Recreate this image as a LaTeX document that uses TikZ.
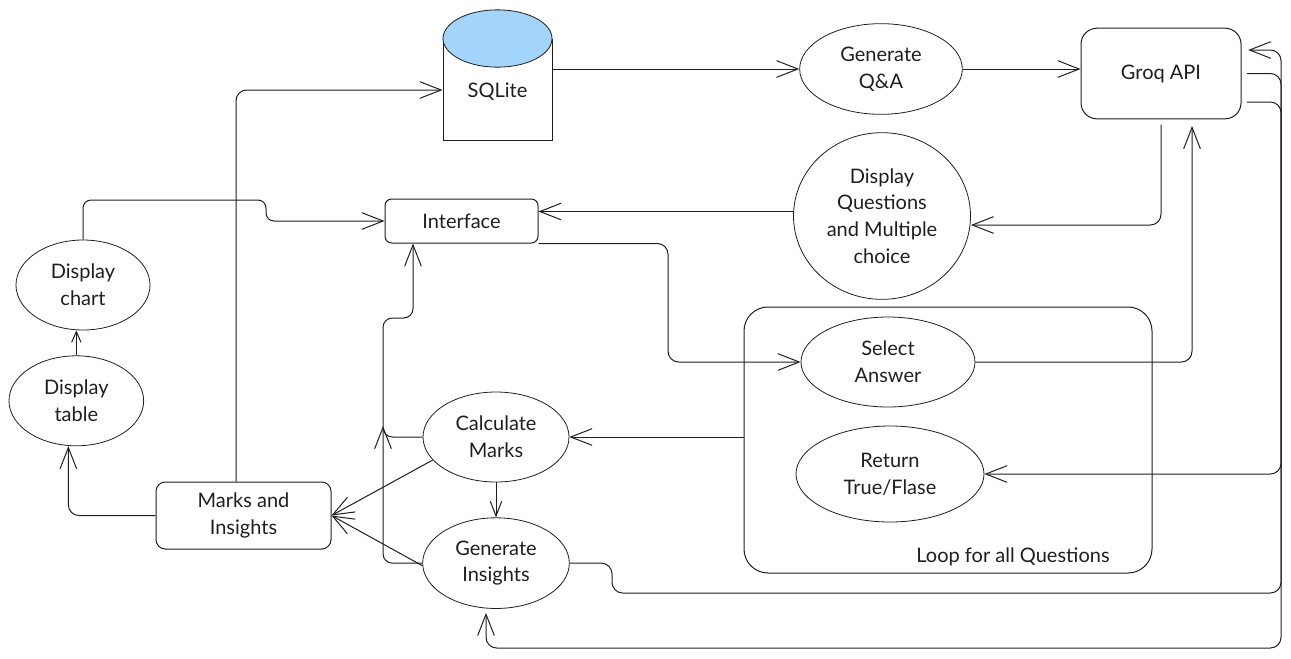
\documentclass[tikz,border=0pt]{standalone}
\usepackage{fontspec}
\setmainfont{Lato}
\usetikzlibrary{shapes.geometric,arrows.meta,positioning}
\definecolor{dbblue}{RGB}{163,212,252}
\definecolor{ink}{RGB}{30,30,30}

\begin{document}
\begin{tikzpicture}[
        x=0.75pt, y=-0.75pt,
        font=\fontsize{15pt}{20pt}\selectfont,
        line width=0.75pt, draw=ink, text=ink,
        oval/.style={ellipse, draw=ink, line width=0.6pt, align=center, inner sep=0pt},
        box/.style={rectangle, draw=ink, align=center, inner sep=0pt},
        arrow/.style={-{Straight Barb[length=16pt,width=12.5pt]}},
        mid arrow/.style={-{Straight Barb[length=11pt,width=8.5pt]}},
        small arrow/.style={-{Straight Barb[length=8pt,width=7pt]}}
    ]
        \useasboundingbox (0,0) rectangle (1291,658);

        % database
        \draw (443,39) -- (443,140) -- (552,140) -- (552,39);
        \draw[fill=dbblue, line width=0.6pt] (497.5,38.5) ellipse [x radius=40.875pt, y radius=21.5pt];
        \node (sql) [minimum width=81.75pt, minimum height=97.5pt, inner sep=0pt] at (497.5,75) {};
        \node (sqltext) at (497.5,92) {SQLite};

        \node (genqa) [oval, minimum width=122pt, minimum height=68pt] at (881,69) {Generate\\Q\&A};
        \node (groq) [box, rounded corners=12pt, minimum width=120pt, minimum height=68pt] at (1161,73.5) {Groq API};
        \node (dispq) [oval, minimum width=132.75pt, minimum height=125pt] at (882,216) {Display\\Questions\\and Multiple\\choice};
        \node (interface) [box, rounded corners=5pt, minimum width=114.75pt, minimum height=33pt] at (461.5,221) {Interface};
        \node (chart) [oval, minimum width=100.5pt, minimum height=67.5pt] at (83,285) {Display\\chart};
        \node (table) [oval, minimum width=101pt, minimum height=67.5pt, below=18.75pt of chart, xshift=-5pt] {Display\\table};
        \node (marks) [box, rounded corners=7pt, minimum width=131.25pt, minimum height=50.25pt] at (243.5,515.5) {Marks and\\Insights};
        \node (calc) [oval, minimum width=109.5pt, minimum height=67.5pt] at (496,437) {Calculate\\Marks};
        \node (geni) [oval, minimum width=110pt, minimum height=68pt, below=26.25pt of calc] {Generate\\Insights};

        % question loop
        \node (loop) [box, rounded corners=18pt, minimum width=306pt, minimum height=199.5pt] at (948,440) {};
        \node (select) [oval, minimum width=130.5pt, minimum height=67.5pt] at (888,362) {Select\\Answer};
        \node (ret) [oval, minimum width=141pt, minimum height=72pt] at (890,474) {Return\\True/Flase};
        \node (looplabel) at (1013,557) {Loop for all Questions};

        \coordinate (up) at (383,426);

        \draw[arrow] (sql.east |- genqa.west) -- (genqa.west);
        \draw[arrow] (genqa.east) -- (genqa.east -| groq.west);
        \draw[arrow, rounded corners=8pt] (marks.north -| 236,0) |- (sql.west |- 0,90);
        \draw[arrow, rounded corners=8pt, shorten <=4pt] (groq.south) |- (dispq.east |- 0,225);
        \draw[arrow] (dispq.west |- 0,211.5) -- (interface.east |- 0,211.5);
        \draw[arrow, rounded corners=6pt] (chart.north) |- (266,200) |- (interface.west);
        \draw[small arrow] (table.north) -- (table.north |- chart.south);
        \draw[arrow, rounded corners=8pt] (marks.west) -| ([xshift=-6pt]table.south);
        \draw[arrow] (calc.200) -- (marks.east);
        \draw[arrow] (geni.182) -- (marks.east);
        \draw[mid arrow] (calc.south) -- (geni.north);
        \draw[arrow, rounded corners=7pt] (calc.west) -| (383,318) -| (interface.south -| 413,0);
        \draw[arrow, rounded corners=7pt] (geni.west) -| (up);
        \draw[arrow, rounded corners=8pt] (interface.south east) -| (select.west -| 668,0) -- (select.west);
        \draw[arrow, rounded corners=8pt, shorten >=5pt] (select.east) -| (groq.south -| 1192,0);
        \draw[arrow] (loop.west |- calc.east) -- (calc.east);

        % back to Groq and out again
        \draw[arrow, rounded corners=8pt, shorten <=4pt] (groq.east) -| (1281,474) -- (ret.east);
        \draw[arrow, rounded corners=8pt, shorten <=4pt, shorten >=3pt] (groq.east |- 0,102) -| (1281,648) -| (geni.south -| 486,0);
        \draw[arrow, rounded corners=8pt, shorten >=5pt] (geni.east) -| (612,593) -| (1281,50) -- (groq.east |- 0,50);
    \end{tikzpicture}
\end{document}
